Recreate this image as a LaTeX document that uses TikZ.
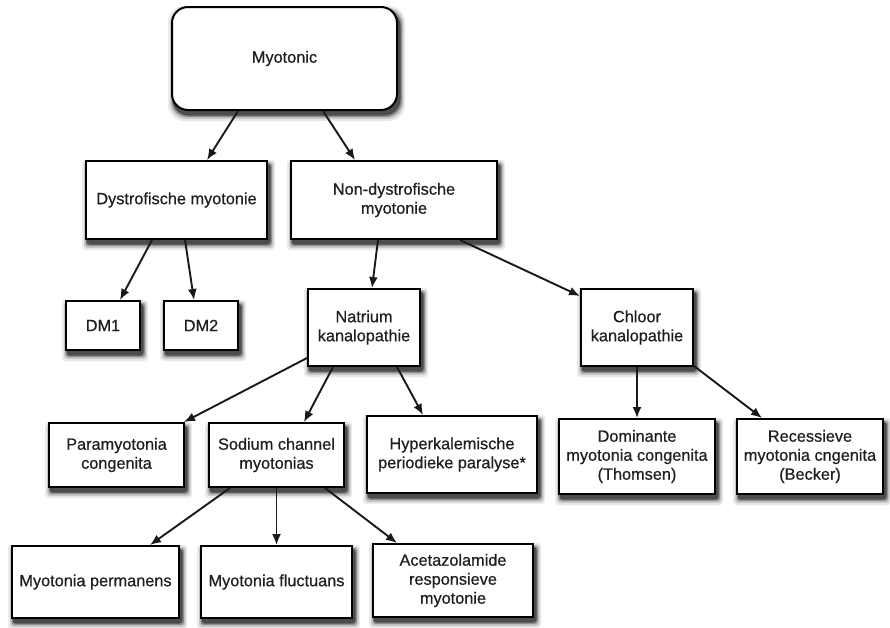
\documentclass[tikz,border=0pt]{standalone}
\usepackage{fontspec}
\setmainfont{Liberation Sans}[FakeBold=0.6]
\usetikzlibrary{arrows.meta}
\pgfdeclarelayer{background}
\pgfsetlayers{background,main}
\begin{document}
\begin{tikzpicture}[x=1pt,y=-1pt,
  box/.style={draw=black, line width=2pt, fill=white, align=center,
    inner sep=2pt, text=black!88,
    font=\fontsize{16.3}{19}\selectfont},
  arr/.style={line width=1.9pt, draw=black!90, -{Latex[length=11pt,width=9pt]}},
  sh1/.style={fill=black!8},
  sh2/.style={fill=black!22},
  sh3/.style={fill=black!45},
  sh4/.style={fill=black!70}]
\useasboundingbox (0,0) rectangle (890,627);

\node[box, rounded corners=16pt, minimum width=225pt, minimum height=103pt] (myo) at (284.5,58.5) {Myotonic};
\node[box, minimum width=181pt, minimum height=78pt] (dys) at (176.5,200) {Dystrofische myotonie};
\node[box, minimum width=206pt, minimum height=78pt] (non) at (394,200) {Non-dystrofische\\myotonie};
\node[box, minimum width=74pt, minimum height=49pt] (dm1) at (103,325.5) {DM1};
\node[box, minimum width=74pt, minimum height=49pt] (dm2) at (201,325.5) {DM2};
\node[box, minimum width=112pt, minimum height=77pt] (nat) at (364,327.5) {Natrium\\kanalopathie};
\node[box, minimum width=112pt, minimum height=77pt] (chl) at (637,327.5) {Chloor\\kanalopathie};
\node[box, minimum width=135pt, minimum height=64pt] (par) at (116.5,455) {Paramyotonia\\congenita};
\node[box, minimum width=135pt, minimum height=64pt] (sod) at (276.5,455) {Sodium channel\\myotonias};
\node[box, minimum width=170pt, minimum height=77pt] (hyp) at (452,454.5) {Hyperkalemische\\periodieke paralyse*};
\node[box, minimum width=156pt, minimum height=75pt] (dom) at (637,456.5) {Dominante\\myotonia congenita\\(Thomsen)};
\node[box, minimum width=146pt, minimum height=75pt] (rec) at (810,456.5) {Recessieve\\myotonia cngenita\\(Becker)};
\node[box, minimum width=167pt, minimum height=72pt] (per) at (95.5,582) {Myotonia permanens};
\node[box, minimum width=151pt, minimum height=72pt] (flu) at (276.5,582) {Myotonia fluctuans};
\node[box, minimum width=160pt, minimum height=73pt] (ace) at (453,580.5) {Acetazolamide\\responsieve\\myotonie};

\begin{pgfonlayer}{background}
\fill[white] (0,0) rectangle (890,627);
\foreach \n/\r in {myo/16pt,dys/3pt,non/3pt,dm1/3pt,dm2/3pt,nat/3pt,chl/3pt,par/3pt,sod/3pt,hyp/3pt,dom/3pt,rec/3pt,per/3pt,flu/3pt,ace/3pt} {
  \fill[sh1, rounded corners=\r] ([shift={(-3pt,-10pt)}]\n.south west) rectangle ([shift={(7pt,0pt)}]\n.north east);
  \fill[sh2, rounded corners=\r] ([shift={(-1pt,-8pt)}]\n.south west) rectangle ([shift={(5.5pt,-1.5pt)}]\n.north east);
  \fill[sh3, rounded corners=\r] ([shift={(0.5pt,-6pt)}]\n.south west) rectangle ([shift={(4pt,-3pt)}]\n.north east);
  \fill[sh4, rounded corners=\r] ([shift={(1.5pt,-4.5pt)}]\n.south west) rectangle ([shift={(2.5pt,-4pt)}]\n.north east);
}
\end{pgfonlayer}

\draw[arr] ([xshift=-46.5pt]myo.south) -- ([xshift=30.5pt]dys.north);
\draw[arr] ([xshift=38.5pt]myo.south) -- ([xshift=-39pt]non.north);
\draw[arr] ([xshift=-24.5pt]dys.south) -- ([xshift=17pt]dm1.north);
\draw[arr] ([xshift=8.5pt]dys.south) -- ([xshift=-7pt]dm2.north);
\draw[arr] ([xshift=-16pt]non.south) -- ([xshift=8pt]nat.north);
\draw[arr] ([xshift=66pt]non.south) -- ([yshift=-8pt]chl.north west);
\draw[arr] ([yshift=9pt]nat.south west) -- ([xshift=-1pt]par.north east);
\draw[arr] ([xshift=-31pt]nat.south) -- ([xshift=27.5pt]sod.north);
\draw[arr] ([xshift=33pt]nat.south) -- ([xshift=-29pt]hyp.north);
\draw[arr] (chl.south) -- (dom.north);
\draw[arr] ([yshift=1pt]chl.south east) -- ([xshift=-48pt]rec.north);
\draw[arr] ([xshift=-46.5pt]sod.south) -- ([xshift=54.5pt]per.north);
\draw[arr] (sod.south) -- (flu.north);
\draw[arr] ([xshift=48.5pt]sod.south) -- ([xshift=-56pt]ace.north);
\end{tikzpicture}
\end{document}
